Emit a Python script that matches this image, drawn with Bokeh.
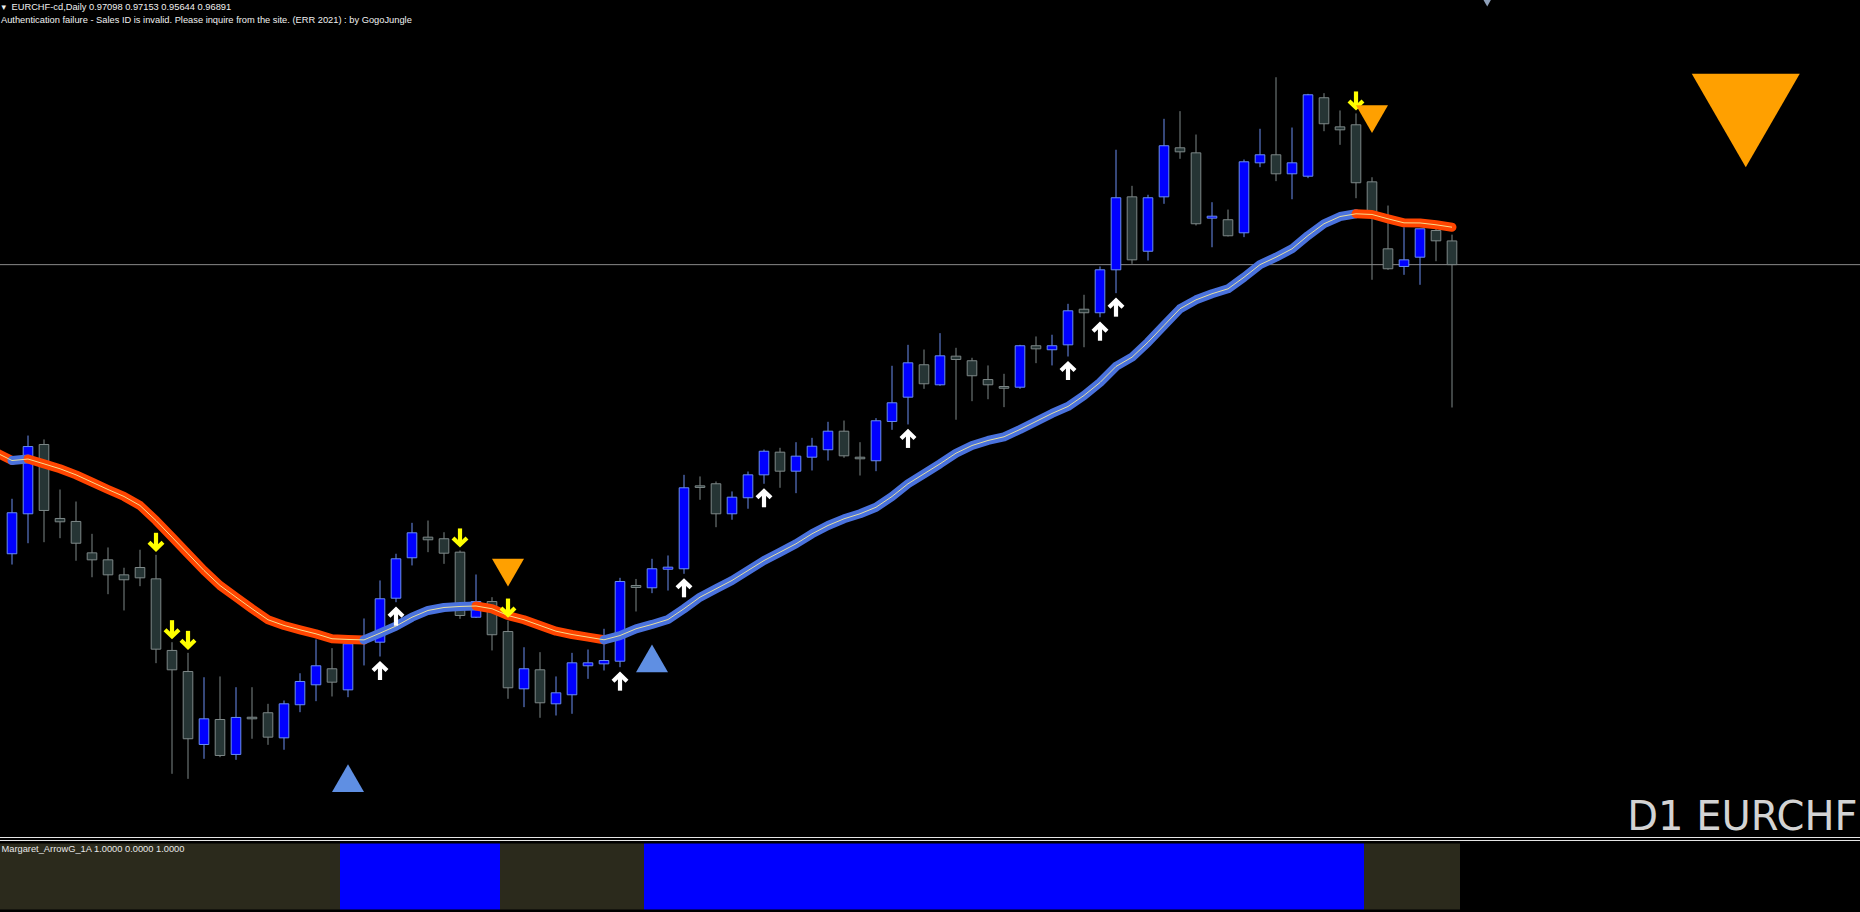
import numpy as np
from bokeh.plotting import figure
from bokeh.models import ColumnDataSource, Span, Range1d
from bokeh.core.properties import value
from bokeh.embed import file_html
from bokeh.resources import INLINE

# ---------------- data ----------------
symbol = "EURCHF"
period = "D1"
chart_name = "EURCHF-cd,Daily"
header_ohlc = ["0.97098", "0.97153", "0.95644", "0.96891"]
auth_message = "Authentication failure - Sales ID is invalid. Please inquire from the site. (ERR 2021) : by GogoJungle"
panel_label = "Margaret_ArrowG_1A 1.0000 0.0000 1.0000"

bars = list(range(91))
opens = [0.94367, 0.94716, 0.95321, 0.94675, 0.94649, 0.94375, 0.94314, 0.94183, 0.94247, 0.94148,
         0.93523, 0.93339, 0.92702, 0.92920, 0.92615, 0.92940, 0.92979, 0.92760, 0.93049, 0.93223,
         0.93363, 0.93179, 0.93601, 0.93595, 0.93979, 0.94332, 0.94512, 0.94498, 0.94381, 0.93813,
         0.93950, 0.93688, 0.93188, 0.93354, 0.93057, 0.93136, 0.93389, 0.93406, 0.93429, 0.94090,
         0.94070, 0.94232, 0.94236, 0.94960, 0.94978, 0.94716, 0.94856, 0.95056, 0.95254, 0.95088,
         0.95210, 0.95275, 0.95437, 0.95210, 0.95179, 0.95522, 0.95734, 0.96017, 0.95842, 0.96092,
         0.96052, 0.95888, 0.95827, 0.95821, 0.96183, 0.96148, 0.96191, 0.96502, 0.96471, 0.96846,
         0.97483, 0.97008, 0.97483, 0.97911, 0.97867, 0.97297, 0.97283, 0.97169, 0.97780, 0.97850,
         0.97684, 0.97663, 0.98348, 0.98094, 0.98112, 0.97614, 0.97029, 0.96875, 0.96956, 0.97189,
         0.97098]
highs = [0.94847, 0.95399, 0.95365, 0.94928, 0.94823, 0.94541, 0.94422, 0.94245, 0.94402, 0.94358,
         0.93595, 0.93502, 0.93289, 0.93296, 0.93202, 0.93202, 0.93057, 0.93086, 0.93324, 0.93619,
         0.93543, 0.93653, 0.93802, 0.94134, 0.94367, 0.94637, 0.94657, 0.94555, 0.94396, 0.94186,
         0.93988, 0.93784, 0.93551, 0.93508, 0.93296, 0.93502, 0.93531, 0.93712, 0.94157, 0.94147,
         0.94323, 0.94352, 0.95056, 0.95042, 0.94998, 0.94911, 0.95085, 0.95277, 0.95292, 0.95341,
         0.95379, 0.95519, 0.95530, 0.95341, 0.95551, 0.96008, 0.96191, 0.96150, 0.96293, 0.96165,
         0.96078, 0.96011, 0.95938, 0.96191, 0.96264, 0.96279, 0.96549, 0.96628, 0.96875, 0.97894,
         0.97579, 0.97501, 0.98164, 0.98231, 0.98027, 0.97436, 0.97372, 0.97809, 0.98077, 0.98527,
         0.98088, 0.98382, 0.98388, 0.98237, 0.98211, 0.97654, 0.97407, 0.97218, 0.97204, 0.97218,
         0.97153]
lows = [0.94273, 0.94459, 0.94468, 0.94503, 0.94306, 0.94162, 0.94014, 0.93872, 0.94084, 0.93412,
        0.92446, 0.92402, 0.92577, 0.92591, 0.92568, 0.92752, 0.92699, 0.92656, 0.92984, 0.93080,
        0.93121, 0.93115, 0.93392, 0.93470, 0.93944, 0.94265, 0.94381, 0.94279, 0.93799, 0.93806,
        0.93523, 0.93101, 0.93028, 0.92935, 0.92955, 0.92970, 0.93275, 0.93348, 0.93377, 0.93863,
        0.94023, 0.94046, 0.94192, 0.94838, 0.94599, 0.94664, 0.94760, 0.94978, 0.94943, 0.94896,
        0.95094, 0.95181, 0.95205, 0.95050, 0.95088, 0.95449, 0.95496, 0.95807, 0.95833, 0.95537,
        0.95699, 0.95716, 0.95647, 0.95807, 0.96031, 0.96011, 0.96089, 0.96170, 0.96432, 0.96642,
        0.96898, 0.96927, 0.97422, 0.97815, 0.97233, 0.97043, 0.97137, 0.97131, 0.97742, 0.97620,
        0.97462, 0.97646, 0.98056, 0.97937, 0.97471, 0.96759, 0.96846, 0.96802, 0.96715, 0.96921,
        0.95644]
closes = [0.94725, 0.95303, 0.94745, 0.94646, 0.94459, 0.94314, 0.94183, 0.94140, 0.94157, 0.93534,
          0.93354, 0.92752, 0.92926, 0.92606, 0.92938, 0.92926, 0.92766, 0.93057, 0.93252, 0.93389,
          0.93246, 0.93581, 0.93619, 0.93974, 0.94323, 0.94550, 0.94489, 0.94372, 0.93828, 0.93950,
          0.93660, 0.93197, 0.93363, 0.93066, 0.93153, 0.93415, 0.93415, 0.93435, 0.94125, 0.94073,
          0.94236, 0.94250, 0.94943, 0.94946, 0.94716, 0.94861, 0.95056, 0.95262, 0.95088, 0.95219,
          0.95306, 0.95437, 0.95222, 0.95196, 0.95528, 0.95685, 0.96034, 0.95851, 0.96095, 0.96063,
          0.95921, 0.95842, 0.95812, 0.96183, 0.96156, 0.96183, 0.96488, 0.96471, 0.96846, 0.97475,
          0.96933, 0.97475, 0.97929, 0.97876, 0.97248, 0.97314, 0.97143, 0.97789, 0.97850, 0.97684,
          0.97780, 0.98374, 0.98121, 0.98068, 0.97606, 0.97338, 0.96855, 0.96933, 0.97204, 0.97099,
          0.96891]

ma_bars = list(range(-1, 91))
ma_values = [0.95251,
             0.95181, 0.95194, 0.95152, 0.95109, 0.95056, 0.94992, 0.94928, 0.94867, 0.94788, 0.94657,
             0.94512, 0.94367, 0.94221, 0.94090, 0.93988, 0.93887, 0.93791, 0.93741, 0.93703, 0.93668,
             0.93625, 0.93619, 0.93615, 0.93674, 0.93736, 0.93813, 0.93872, 0.93898, 0.93907, 0.93911,
             0.93887, 0.93828, 0.93791, 0.93741, 0.93691, 0.93662, 0.93639, 0.93616, 0.93653, 0.93712,
             0.93750, 0.93793, 0.93887, 0.93988, 0.94061, 0.94134, 0.94221, 0.94308, 0.94381, 0.94454,
             0.94541, 0.94614, 0.94672, 0.94716, 0.94773, 0.94867, 0.94978, 0.95065, 0.95152, 0.95245,
             0.95312, 0.95356, 0.95388, 0.95452, 0.95522, 0.95592, 0.95653, 0.95749, 0.95862, 0.96002,
             0.96083, 0.96214, 0.96360, 0.96506, 0.96584, 0.96637, 0.96680, 0.96781, 0.96891, 0.96956,
             0.97029, 0.97145, 0.97248, 0.97311, 0.97335, 0.97329, 0.97291, 0.97256, 0.97255, 0.97239,
             0.97218]

sell_arrow_bars = [9, 10, 11, 28, 31, 84]
buy_arrow_bars = [23, 24, 38, 42, 47, 56, 66, 68, 69]
buy_signal_bars = [21, 40]
buy_signal_prices = [0.92368, 0.93413]
sell_signal_bars = [31, 85]
sell_signal_prices = [0.94242, 0.98201]
current_signal_bar = [108.36]
current_signal_price = [0.98285]
offscreen_mark_bar = [92.2]
offscreen_mark_price = [0.99221]
panel_bars = list(range(-1, 91))

# ---------------- layout / style ----------------
OFF = 1  # figure is pulled 1px up/left to hide the page seam
W, H = 1860 + OFF, 912 + OFF
BAR_PX = 16.0
X_START = -(11.5 + OFF) / BAR_PX
X_END = X_START + W / BAR_PX
PRICE_PER_PX = 0.0000873
Y_END = 0.99197 + OFF * PRICE_PER_PX
Y_START = Y_END - H * PRICE_PER_PX
PANEL_TOP_PX, PANEL_BOTTOM_PX = 843.0, 909.0
PANEL_PX = PANEL_BOTTOM_PX - PANEL_TOP_PX


def sx(px):
    return X_START + (px + OFF) / BAR_PX


def sy(py):
    return Y_END - (py + OFF) * PRICE_PER_PX


def pv(py):
    return (PANEL_BOTTOM_PX - py) / PANEL_PX


BULL_FILL, BULL_LINE = "#0000FF", "#6A8DF0"
BEAR_FILL, BEAR_LINE = "#263535", "#7E8888"
MA_UP, MA_DOWN = "#4A72DD", "#FF4500"

p = figure(width=W, height=H, x_range=Range1d(X_START, X_END), y_range=Range1d(Y_START, Y_END),
           x_axis_type=None, y_axis_type=None, toolbar_location=None, output_backend="svg",
           background_fill_color="black", border_fill_color="black", outline_line_color=None,
           min_border=0, margin=(-OFF, 0, 0, -OFF))
p.grid.visible = False
p.extra_y_ranges = {"panel": Range1d(pv(H - OFF), pv(-OFF))}

# current price line
p.add_layout(Span(location=closes[-1], dimension="width", line_color="#8A8A8A", line_width=1,
                  level="underlay"))

# candles
o = np.array(opens); c = np.array(closes); h = np.array(highs); l = np.array(lows)
up = c > o
csrc = ColumnDataSource(dict(
    x=bars, top=np.maximum(o, c), bottom=np.minimum(o, c), high=h, low=l,
    fill=[BULL_FILL if u else BEAR_FILL for u in up],
    line=[BULL_LINE if u else BEAR_LINE for u in up]))
p.segment(x0="x", y0="high", x1="x", y1="low", line_color="line", line_width=1, source=csrc)
p.vbar(x="x", top="top", bottom="bottom", width=0.6, fill_color="fill", line_color="line",
       line_width=1, source=csrc)

# moving average, coloured by slope
ma = np.array(ma_values); mb = np.array(ma_bars, dtype=float)
rising = ma[1:] > ma[:-1]
runs_x, runs_y, runs_c = [], [], []
start = 0
for k in range(1, len(rising) + 1):
    if k == len(rising) or rising[k] != rising[start]:
        runs_x.append(list(mb[start:k + 1])); runs_y.append(list(ma[start:k + 1]))
        runs_c.append(MA_UP if rising[start] else MA_DOWN)
        start = k
p.multi_line(xs=runs_x, ys=runs_y, line_color=runs_c, line_width=9, line_cap="round", line_join="round")
p.line(x=list(mb), y=list(ma), line_color="#F6EC9A", line_width=1, line_alpha=0.9)


# arrows
def arrow_paths(xc, tip, pointing_down):
    s = 1.0 if pointing_down else -1.0
    dx = lambda q: q / BAR_PX
    dy = lambda q: s * q * PRICE_PER_PX
    return [([xc, xc], [tip + dy(19), tip + dy(3)]),
            ([xc - dx(7), xc, xc + dx(7)], [tip + dy(9.5), tip + dy(2.8), tip + dy(9.5)])]


axs, ays = [], []
for b in sell_arrow_bars:
    for xs_, ys_ in arrow_paths(b, highs[b] + 3 * PRICE_PER_PX, True):
        axs.append(xs_); ays.append(ys_)
p.multi_line(xs=axs, ys=ays, line_color="#FFFF00", line_width=4.2, line_join="miter", line_cap="butt")
bxs, bys = [], []
for b in buy_arrow_bars:
    for xs_, ys_ in arrow_paths(b, lows[b] - 4.5 * PRICE_PER_PX, False):
        bxs.append(xs_); bys.append(ys_)
p.multi_line(xs=bxs, ys=bys, line_color="#FFFFFF", line_width=4.2, line_join="miter", line_cap="butt")

# signal triangles
p.scatter(x=buy_signal_bars, y=buy_signal_prices, marker="triangle", size=32, fill_color="#5F8FE3",
          line_color=None)
p.scatter(x=sell_signal_bars, y=sell_signal_prices, marker="inverted_triangle", size=32,
          fill_color="#FFA000", line_color=None)
p.scatter(x=current_signal_bar, y=current_signal_price, marker="inverted_triangle", size=108,
          fill_color="#FFA000", line_color=None)
p.scatter(x=offscreen_mark_bar, y=offscreen_mark_price, marker="inverted_triangle", size=15,
          fill_color="#8E9FB8", line_color=None)

# indicator panel
state, states = 0, []
for b in panel_bars:
    if b in buy_signal_bars:
        state = 1
    if b in sell_signal_bars:
        state = 0
    states.append(state)
ql, qr, qc = [], [], []
s0 = 0
for k in range(1, len(states) + 1):
    if k == len(states) or states[k] != states[s0]:
        ql.append(panel_bars[s0] - 0.5); qr.append(panel_bars[k - 1] + 0.5)
        qc.append("#0000FF" if states[s0] else "#2B2A1C")
        s0 = k
p.quad(left=ql, right=qr, bottom=0, top=1, fill_color=qc, line_color=None, y_range_name="panel")
for loc in (pv(837), pv(840)):
    p.add_layout(Span(location=loc, dimension="width", y_range_name="panel", line_color="#E6E6E6",
                      line_width=1))

# texts (baseline positions corrected for the SVG renderer's offset of ~0.4 em)
SMALL_PX = 9.3
shift = 0.4 * SMALL_PX
small = dict(text_font=value("Liberation Sans"), text_font_size=f"{SMALL_PX}px",
             text_baseline="alphabetic", text_align="left")
p.text(x=[sx(1)], y=[sy(10 - shift)], text=["\u25be"], text_color="#F0F0F0",
       text_font=value("DejaVu Sans"), text_font_size="9px", text_baseline="alphabetic",
       text_align="left")
p.text(x=[sx(11)], y=[sy(10.7 - shift)], text=[chart_name + "  " + " ".join(header_ohlc)],
       text_color="#F0F0F0", **small)
p.text(x=[sx(0.5)], y=[sy(23.7 - shift)], text=[auth_message], text_color="#F0F0F0", **small)
p.text(x=[sx(1)], y=[pv(852.5 - shift)], text=[panel_label], text_color="#E8E8E8",
       y_range_name="panel", **small)
p.text(x=[sx(1857)], y=[sy(831.5 - 0.4 * 40)], text=[period + " " + symbol], text_color="#D3D3D3",
       text_font=value("DejaVu Sans"), text_font_size="40px", text_baseline="alphabetic",
       text_align="right")

open("out.html", "w").write(file_html(p, INLINE))
